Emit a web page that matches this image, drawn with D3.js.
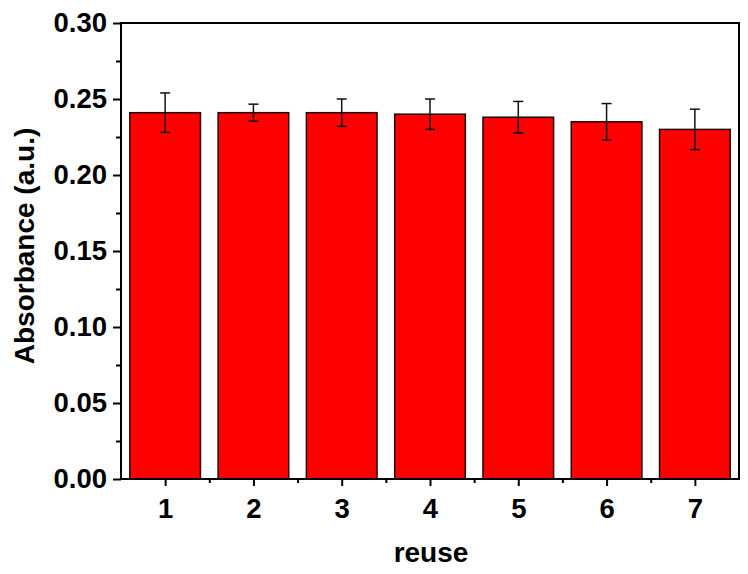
<!DOCTYPE html>
<html><head><meta charset="utf-8">
<script src="https://cdn.jsdelivr.net/npm/d3@7/dist/d3.min.js"></script>
<style>body{margin:0;background:#fff}svg{display:block}text{font-family:"Liberation Sans",Arial,sans-serif;font-weight:bold}</style>
</head><body>
<svg id="c" width="748" height="574"></svg>
<script>
const categories = [1, 2, 3, 4, 5, 6, 7];
const values = [0.241, 0.241, 0.241, 0.240, 0.238, 0.235, 0.230];
const errors = [0.013, 0.0056, 0.009, 0.010, 0.0104, 0.012, 0.0133];
const yTicks = [0, 0.05, 0.10, 0.15, 0.20, 0.25, 0.30];
const yMinor = [0.025, 0.075, 0.125, 0.175, 0.225, 0.275];
const xMinor = [1.5, 2.5, 3.5, 4.5, 5.5, 6.5];

const svg = d3.select("#c");
const L = 121, R = 739, T = 23, B = 479;
const x = d3.scaleLinear().domain([0.5, 7.5]).range([L, R]);
const y = d3.scaleLinear().domain([0, 0.30]).range([B, T]);
const bw = (x(2) - x(1)) * 0.8;

const g = svg.append("g");
g.selectAll("rect.bar").data(categories).join("rect")
  .attr("x", (d) => x(d) - bw / 2).attr("width", bw)
  .attr("y", (d, i) => y(values[i])).attr("height", (d, i) => B - y(values[i]))
  .attr("fill", "#ff0000").attr("stroke", "#200000").attr("stroke-width", 1.5);

const eb = g.selectAll("g.err").data(categories).join("g").attr("stroke", "#111").attr("stroke-width", 1.5);
eb.append("line").attr("x1", d => x(d)).attr("x2", d => x(d))
  .attr("y1", (d, i) => y(values[i] + errors[i])).attr("y2", (d, i) => y(values[i] - errors[i]));
eb.append("line").attr("x1", d => x(d) - 5).attr("x2", d => x(d) + 5)
  .attr("y1", (d, i) => y(values[i] + errors[i])).attr("y2", (d, i) => y(values[i] + errors[i]));
eb.append("line").attr("x1", d => x(d) - 5).attr("x2", d => x(d) + 5)
  .attr("y1", (d, i) => y(values[i] - errors[i])).attr("y2", (d, i) => y(values[i] - errors[i]));

// axes
const yAxis = d3.axisLeft(y).tickValues(yTicks).tickFormat(d3.format(".2f")).tickSize(8).tickPadding(6);
const ya = svg.append("g").attr("transform", `translate(${L},0)`).call(yAxis);
ya.select(".domain").remove();
ya.selectAll("line").attr("stroke", "#000").attr("stroke-width", 2);
ya.selectAll("text").attr("font-size", 27.5).attr("fill", "#000");
const yMin = d3.axisLeft(y).tickValues(yMinor).tickSize(5).tickFormat("");
const ym = svg.append("g").attr("transform", `translate(${L},0)`).call(yMin);
ym.select(".domain").remove();
ym.selectAll("line").attr("stroke", "#000").attr("stroke-width", 2);

const xAxis = d3.axisBottom(x).tickValues(categories).tickFormat(d3.format("d")).tickSize(7).tickPadding(12);
const xa = svg.append("g").attr("transform", `translate(0,${B})`).call(xAxis);
xa.select(".domain").remove();
xa.selectAll("line").attr("stroke", "#000").attr("stroke-width", 2);
xa.selectAll("text").attr("font-size", 27.5).attr("fill", "#000");
const xMin = d3.axisBottom(x).tickValues(xMinor).tickSize(4).tickFormat("");
const xm = svg.append("g").attr("transform", `translate(0,${B})`).call(xMin);
xm.select(".domain").remove();
xm.selectAll("line").attr("stroke", "#000").attr("stroke-width", 2);

svg.append("rect").attr("x", L).attr("y", T).attr("width", R - L).attr("height", B - T)
  .attr("fill", "none").attr("stroke", "#000").attr("stroke-width", 2);

svg.append("text").attr("x", 431).attr("y", 562).attr("text-anchor", "middle")
  .attr("font-size", 28).text("reuse");
svg.append("text").attr("transform", `translate(34,246) rotate(-90)`).attr("text-anchor", "middle")
  .attr("font-size", 28).text("Absorbance (a.u.)");
</script>
</body></html>
